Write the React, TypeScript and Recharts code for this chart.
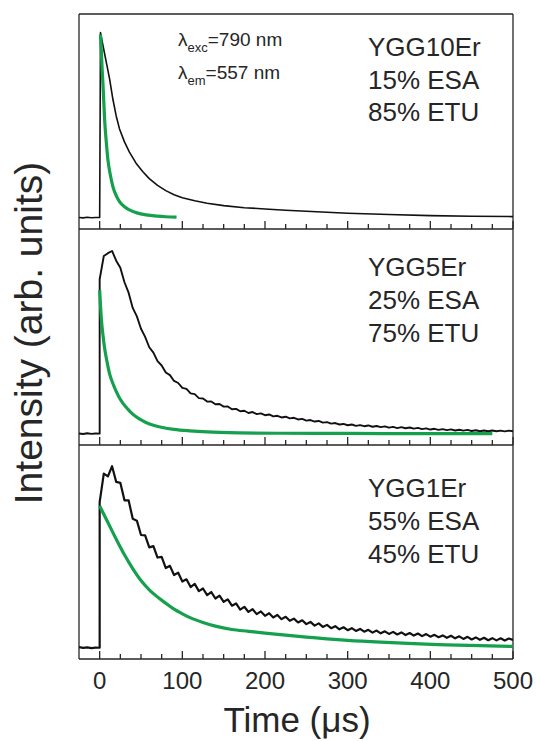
import { LineChart, Line, XAxis, YAxis, ReferenceLine } from "recharts";

const FONT = "'Liberation Sans', Arial, Helvetica, sans-serif";
const INK = "#262626";
const FIT_GREEN = "#14a04c";

// time axis (µs): every 25 gets a tick, every 100 a long one with a label
const timeTicks = [
  0, 25, 50, 75, 100, 125, 150, 175, 200, 225, 250, 275, 300, 325, 350, 375, 400, 425, 450, 475, 500,
];
const labelledTicks = [0, 100, 200, 300, 400, 500];

// YGG10Er – measured decay + fit
const ygg10Time = [
  -25, -20, -15, -10, -5, 0, 1, 4, 8, 12, 16, 20, 24, 30, 36, 44, 52, 60, 70, 80, 90, 100, 115, 130,
  150, 175, 200, 225, 250, 275, 300, 350, 400, 450, 500,
];
const ygg10Decay = [
  0.002, 0.0, 0.003, 0.001, 0.002, 0.002, 1.0, 0.93, 0.84, 0.75, 0.64, 0.55, 0.48, 0.41, 0.355, 0.295,
  0.25, 0.212, 0.175, 0.147, 0.125, 0.109, 0.092, 0.079, 0.066, 0.055, 0.048, 0.041, 0.036, 0.03, 0.025,
  0.018, 0.012, 0.009, 0.007,
];
const ygg10FitTime = [1, 2, 3, 4, 6, 8, 10, 13, 16, 20, 24, 30, 36, 45, 56, 70, 80, 93];
const ygg10Fit = [
  0.99, 0.9, 0.8, 0.72, 0.53, 0.41, 0.313, 0.23, 0.169, 0.12, 0.088, 0.06, 0.043, 0.027, 0.016, 0.009,
  0.006, 0.004,
];

// shared time grid for the noisy YGG5Er / YGG1Er traces
const noisyTime = [
  -25, -20, -15, -10, -5, 0, 0,
  5, 10, 15, 20, 25, 30, 35, 40, 45, 50,
  55, 60, 65, 70, 75, 80, 85, 90, 95, 100,
  105, 110, 115, 120, 125, 130, 135, 140, 145, 150,
  155, 160, 165, 170, 175, 180, 185, 190, 195, 200,
  205, 210, 215, 220, 225, 230, 235, 240, 245, 250,
  255, 260, 265, 270, 275, 280, 285, 290, 295, 300,
  305, 310, 315, 320, 325, 330, 335, 340, 345, 350,
  355, 360, 365, 370, 375, 380, 385, 390, 395, 400,
  405, 410, 415, 420, 425, 430, 435, 440, 445, 450,
  455, 460, 465, 470, 475, 480, 485, 490, 495, 500,
];

// YGG5Er
const ygg5Decay = [
  0.002, -0.001, 0.003, 0.0, 0.002, 0.001, 0.83,
  0.955, 0.97, 0.982, 0.93, 0.892, 0.814, 0.758, 0.676, 0.631, 0.564,
  0.521, 0.465, 0.436, 0.39, 0.367, 0.329, 0.315, 0.284, 0.273, 0.247,
  0.241, 0.217, 0.213, 0.192, 0.19, 0.173, 0.174, 0.159, 0.16, 0.146,
  0.147, 0.132, 0.134, 0.121, 0.124, 0.112, 0.117, 0.106, 0.11, 0.1,
  0.104, 0.094, 0.097, 0.088, 0.092, 0.083, 0.086, 0.077, 0.08, 0.071,
  0.074, 0.066, 0.069, 0.06, 0.063, 0.055, 0.058, 0.05, 0.053, 0.046,
  0.05, 0.043, 0.047, 0.041, 0.045, 0.038, 0.042, 0.036, 0.04, 0.033,
  0.037, 0.031, 0.036, 0.03, 0.034, 0.028, 0.032, 0.025, 0.029, 0.023,
  0.027, 0.021, 0.025, 0.02, 0.024, 0.018, 0.022, 0.017, 0.021, 0.015,
  0.019, 0.014, 0.018, 0.014, 0.018, 0.014, 0.017, 0.013, 0.017, 0.014,
];
const ygg5FitTime = [
  0, 1, 2, 4, 6, 9, 12, 16, 20, 24, 28, 34, 40, 48, 56, 66, 76, 90, 109, 130, 169, 220, 300, 400, 475,
];
const ygg5Fit = [
  0.772, 0.69, 0.62, 0.53, 0.46, 0.385, 0.322, 0.27, 0.228, 0.192, 0.165, 0.133, 0.106, 0.08, 0.061,
  0.045, 0.034, 0.024, 0.016, 0.01, 0.005, 0.003, 0.002, 0.001, 0.001,
];

// YGG1Er
const ygg1Decay = [
  0.004, 0.0, 0.003, -0.001, 0.002, 0.001, 0.79,
  0.945, 0.93, 0.985, 0.9, 0.895, 0.8, 0.8, 0.7, 0.69, 0.612,
  0.61, 0.545, 0.552, 0.49, 0.494, 0.433, 0.445, 0.395, 0.408, 0.36,
  0.372, 0.33, 0.347, 0.308, 0.322, 0.286, 0.303, 0.268, 0.284, 0.25,
  0.263, 0.229, 0.241, 0.208, 0.223, 0.195, 0.21, 0.183, 0.198, 0.174,
  0.188, 0.165, 0.179, 0.156, 0.169, 0.147, 0.159, 0.138, 0.15, 0.129,
  0.141, 0.121, 0.133, 0.114, 0.125, 0.107, 0.118, 0.101, 0.112, 0.096,
  0.107, 0.092, 0.103, 0.088, 0.098, 0.083, 0.094, 0.079, 0.09, 0.076,
  0.087, 0.073, 0.084, 0.07, 0.081, 0.067, 0.078, 0.064, 0.075, 0.061,
  0.071, 0.058, 0.068, 0.055, 0.066, 0.052, 0.063, 0.049, 0.06, 0.046,
  0.057, 0.044, 0.055, 0.042, 0.053, 0.041, 0.052, 0.04, 0.051, 0.043,
];
const ygg1FitTime = [
  0, 10, 20, 30, 40, 50, 60, 70, 80, 90, 100, 110, 125, 140, 160, 180, 200, 225, 250, 275, 300, 340,
  380, 420, 460, 500,
];
const ygg1Fit = [
  0.77, 0.68, 0.59, 0.505, 0.43, 0.365, 0.315, 0.276, 0.242, 0.21, 0.185, 0.163, 0.138, 0.118, 0.1,
  0.09, 0.08, 0.069, 0.059, 0.049, 0.041, 0.031, 0.023, 0.017, 0.012, 0.008,
];

const panelLabels = [
  ["YGG10Er", "15% ESA", "85% ETU"],
  ["YGG5Er", "25% ESA", "75% ETU"],
  ["YGG1Er", "55% ESA", "45% ETU"],
];

type Pt = { t: number; v: number };
const toPoints = (ts: number[], vs: number[]): Pt[] => ts.map((t, i) => ({ t, v: vs[i] }));

const X_DOMAIN: [number, number] = [-25, 500];
const Y_DOMAIN: [number, number] = [-0.06, 1.1];
const frameLine = { stroke: INK, strokeWidth: 1.3 };

// tick drawn by hand: inward line from the axis, label below for the bottom panel
function TimeTick(props: any) {
  const { x, y, payload, showLabel } = props;
  const major = labelledTicks.includes(payload.value);
  return (
    <g>
      <line x1={x} x2={x} y1={y} y2={y - (major ? 8 : 5)} stroke={INK} strokeWidth={1.3} />
      {showLabel && major && (
        <text x={x} y={y + 30} textAnchor="middle" fontSize={24} fill={INK} fontFamily={FONT}>
          {payload.value}
        </text>
      )}
    </g>
  );
}

type PanelProps = {
  top: number;
  plotTop: number;
  plotHeight: number;
  decay: Pt[];
  fit: Pt[];
  decayWidth: number;
  withLabels?: boolean;
  withTopLine?: boolean;
};

function Panel({ top, plotTop, plotHeight, decay, fit, decayWidth, withLabels, withTopLine }: PanelProps) {
  const axisH = withLabels ? 40 : 1;
  const height = plotTop + plotHeight + axisH + 4;
  return (
    <div style={{ position: "absolute", left: 0, top }}>
      <LineChart width={536} height={height} margin={{ top: plotTop, right: 23, bottom: 4, left: 79 }}>
        <XAxis
          xAxisId="time"
          dataKey="t"
          type="number"
          domain={X_DOMAIN}
          ticks={timeTicks}
          interval={0}
          allowDataOverflow
          height={axisH}
          tickSize={0}
          tickMargin={0}
          tickLine={false}
          axisLine={frameLine}
          tick={(p: any) => <TimeTick {...p} showLabel={withLabels} />}
        />
        <YAxis yAxisId="int" type="number" domain={Y_DOMAIN} allowDataOverflow hide />
        <ReferenceLine xAxisId="time" yAxisId="int" x={X_DOMAIN[0]} stroke={INK} strokeWidth={1.3} />
        <ReferenceLine xAxisId="time" yAxisId="int" x={X_DOMAIN[1]} stroke={INK} strokeWidth={1.3} />
        {withTopLine && (
          <ReferenceLine xAxisId="time" yAxisId="int" y={Y_DOMAIN[1]} stroke={INK} strokeWidth={1.3} />
        )}
        <Line
          xAxisId="time"
          yAxisId="int"
          data={decay}
          dataKey="v"
          type="linear"
          stroke="#111"
          strokeWidth={decayWidth}
          strokeLinejoin="round"
          dot={false}
          isAnimationActive={false}
        />
        <Line
          xAxisId="time"
          yAxisId="int"
          data={fit}
          dataKey="v"
          type="monotone"
          stroke={FIT_GREEN}
          strokeWidth={3.2}
          dot={false}
          isAnimationActive={false}
        />
      </LineChart>
    </div>
  );
}

export default function App() {
  const labelBaselines = [
    [56, 89, 121],
    [276, 309, 342],
    [497, 530, 563],
  ];
  return (
    <div style={{ position: "absolute", left: 0, top: 0, width: 536, height: 741, background: "#fff" }}>
      <Panel
        top={0}
        plotTop={14}
        plotHeight={215}
        decay={toPoints(ygg10Time, ygg10Decay)}
        fit={toPoints(ygg10FitTime, ygg10Fit)}
        decayWidth={1.6}
        withTopLine
      />
      <Panel
        top={225}
        plotTop={4}
        plotHeight={216}
        decay={toPoints(noisyTime, ygg5Decay)}
        fit={toPoints(ygg5FitTime, ygg5Fit)}
        decayWidth={1.9}
      />
      <Panel
        top={441}
        plotTop={4}
        plotHeight={214}
        decay={toPoints(noisyTime, ygg1Decay)}
        fit={toPoints(ygg1FitTime, ygg1Fit)}
        decayWidth={2.2}
        withLabels
      />
      <svg
        width={536}
        height={741}
        style={{ position: "absolute", left: 0, top: 0, pointerEvents: "none" }}
        fontFamily={FONT}
        fill={INK}
      >
        <text x={178} y={46} fontSize={19}>
          λ<tspan fontSize={13} dy={6}>exc</tspan>
          <tspan fontSize={19} dy={-6}>=790 nm</tspan>
        </text>
        <text x={178} y={79} fontSize={19}>
          λ<tspan fontSize={13} dy={6}>em</tspan>
          <tspan fontSize={19} dy={-6}>=557 nm</tspan>
        </text>
        {panelLabels.map((lines, p) =>
          lines.map((s, i) => (
            <text key={`${p}-${i}`} x={368} y={labelBaselines[p][i]} fontSize={26}>
              {s}
            </text>
          ))
        )}
        <text transform="rotate(-90)" x={-333} y={42} fontSize={39} textAnchor="middle">
          Intensity (arb. units)
        </text>
        <text x={297} y={732} fontSize={35} textAnchor="middle">
          Time (μs)
        </text>
      </svg>
    </div>
  );
}
